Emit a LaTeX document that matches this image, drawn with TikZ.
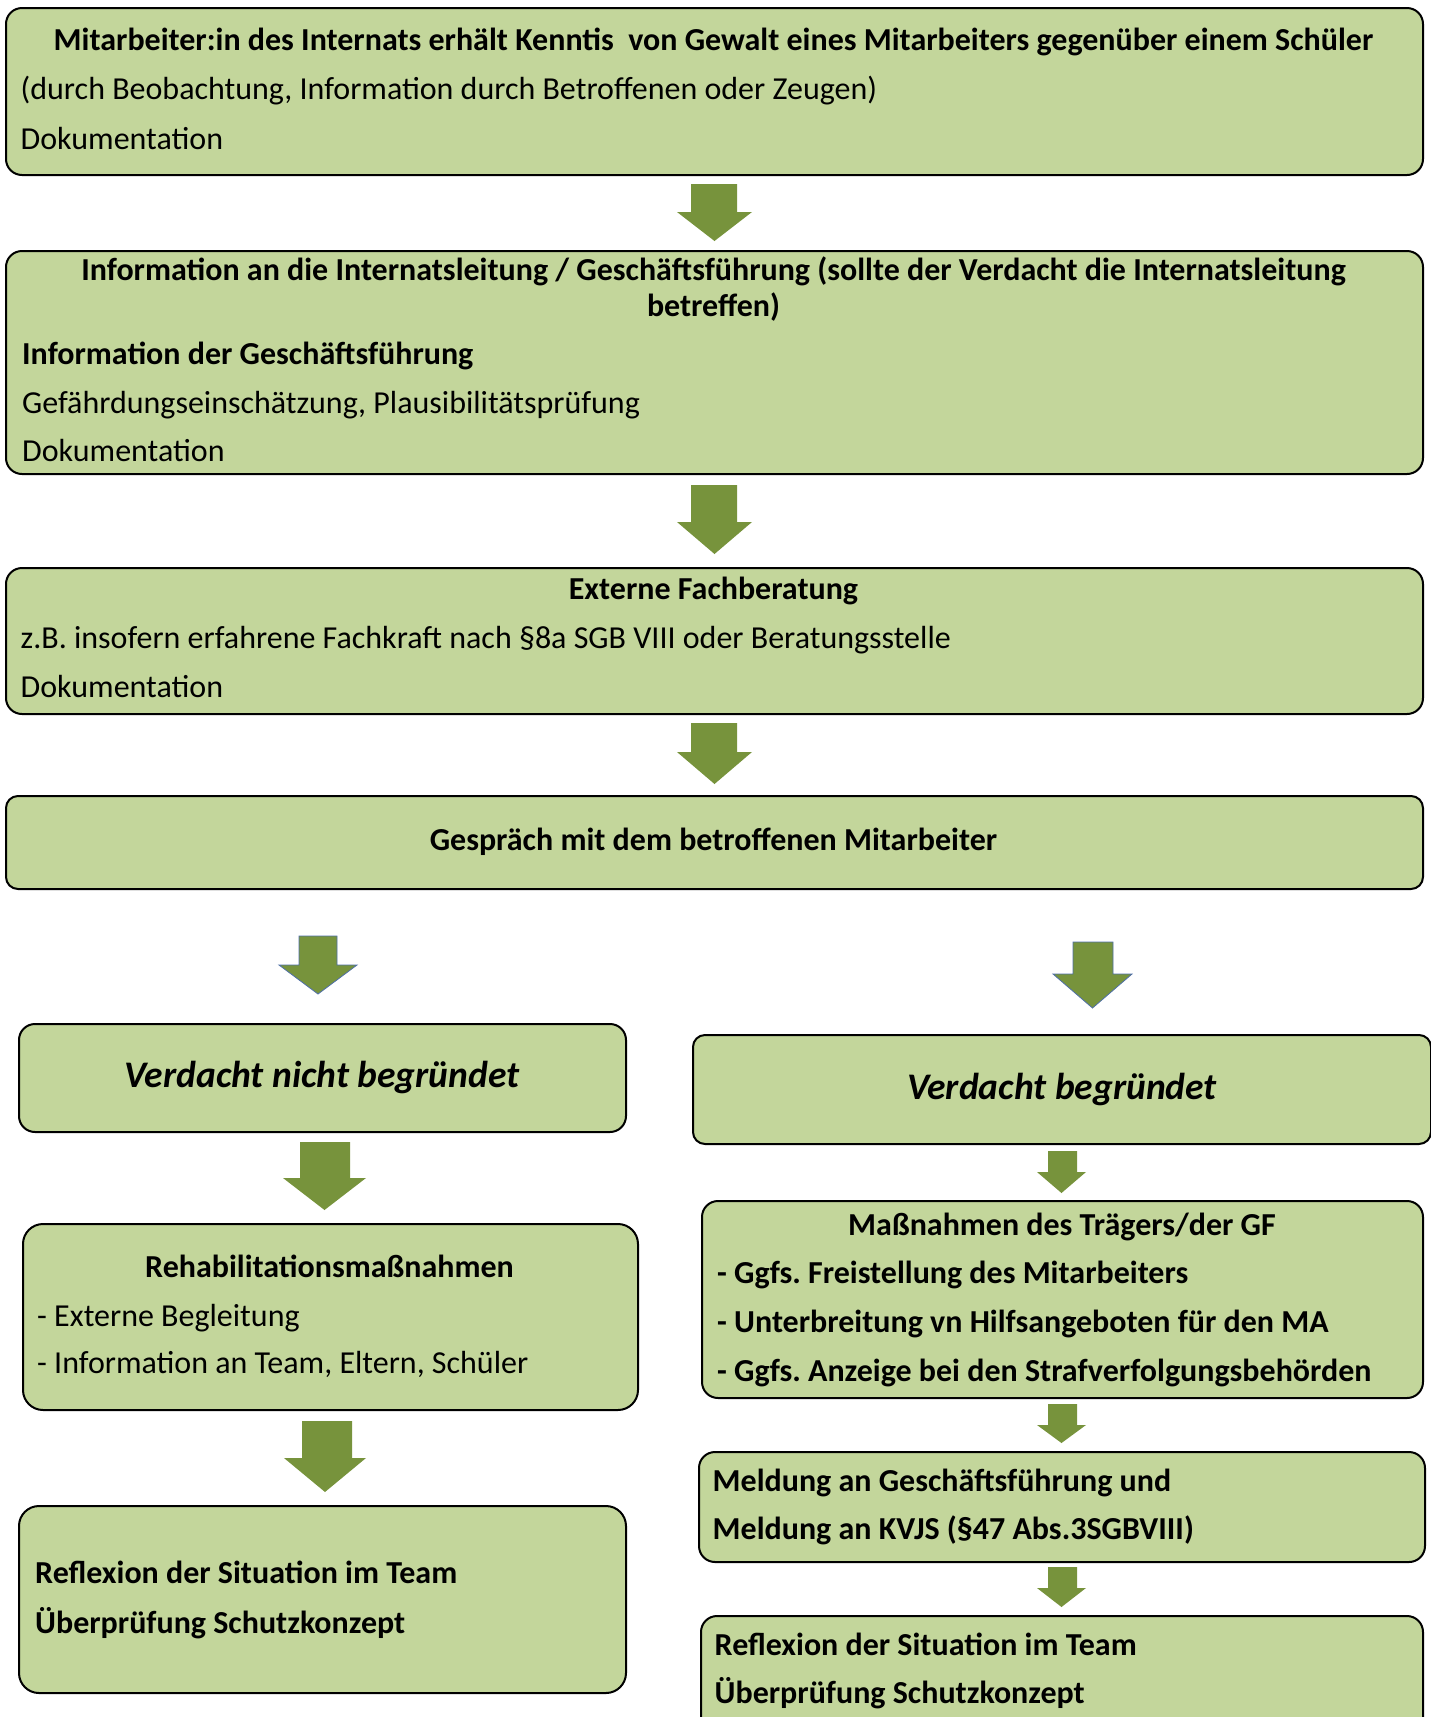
\documentclass[tikz,border=0pt]{standalone}
\usepackage{fontspec}
\setmainfont{Carlito}
\frenchspacing
\definecolor{boxfill}{HTML}{C3D69B}
\definecolor{arrowfill}{HTML}{77933C}
\definecolor{arrowedge}{HTML}{4F6FA8}
\tikzset{
  flowbox/.style={draw=black, line width=2pt, fill=boxfill, rounded corners=16pt, inner sep=0pt, anchor=north west},
  blockarrowplain/.style={fill=arrowfill},
  blockarrowedged/.style={fill=arrowfill, draw=arrowedge, line width=0.8pt},
  titletxt/.style={font=\fontsize{32}{38}\selectfont\bfseries\frenchspacing, inner sep=0pt, anchor=base},
  boldleft/.style={font=\fontsize{32}{38}\selectfont\bfseries\frenchspacing, inner sep=0pt, anchor=base west},
  bodytxt/.style={font=\fontsize{32}{38}\selectfont\frenchspacing, inner sep=0pt, anchor=base west},
  bigtxt/.style={font=\fontsize{37.5}{44}\selectfont\bfseries\itshape, inner sep=0pt, anchor=base},
}
% #1 name, #2 x1, #3 y1, #4 x2, #5 y2, #6 extra style
\newcommand\flowboxat[6]{%
  \pgfmathsetmacro\fbw{#4-#2}\pgfmathsetmacro\fbh{#5-#3}%
  \node[flowbox, minimum width=\fbw pt, minimum height=\fbh pt, #6] (#1) at (#2,#3) {};}
% #1 style, #2 shaftL, #3 shaftR, #4 headL, #5 headR, #6 top, #7 headstart, #8 tip
\newcommand\blockarrowat[8]{%
  \path[#1] (#2,#6) -- (#3,#6) -- (#3,#7) -- (#5,#7) -- ({(#4+#5)/2},#8) -- (#4,#7) -- (#2,#7) -- cycle;}
\begin{document}
\begin{tikzpicture}[x=1pt, y=-1pt]
\useasboundingbox (0,0) rectangle (1431,1717);
\clip (0,0) rectangle (1431,1717);

% boxes
\flowboxat{b1}{5}{7}{1422}{174}{}
\flowboxat{b2}{5}{250}{1422}{473}{}
\flowboxat{b3}{5}{567}{1422}{713}{}
\flowboxat{b4}{5}{795}{1422}{888}{rounded corners=12pt}
\flowboxat{l1}{18}{1023}{625}{1131}{}
\flowboxat{r1}{692}{1034}{1430}{1143}{rounded corners=12pt}
\flowboxat{l2}{22}{1223}{637}{1409}{rounded corners=20pt}
\flowboxat{l3}{18}{1505}{625}{1692}{rounded corners=20pt}
\flowboxat{r2}{701}{1200}{1422}{1397}{}
\flowboxat{r3}{698}{1451}{1424}{1561}{}
\flowboxat{r4}{700}{1615}{1422}{1760}{}

% block arrows
\blockarrowat{blockarrowplain}{691}{737}{677}{752}{184}{212}{241}
\blockarrowat{blockarrowplain}{691}{737}{677}{752}{485}{522}{554}
\blockarrowat{blockarrowplain}{691}{737}{677}{752}{723}{752}{784}
\blockarrowat{blockarrowedged}{299}{337}{279}{357}{936}{965}{994}
\blockarrowat{blockarrowedged}{1073}{1113}{1053}{1132}{942}{974}{1008}
\blockarrowat{blockarrowplain}{300}{350}{283}{366}{1142}{1178}{1210}
\blockarrowat{blockarrowplain}{302}{352}{284}{366}{1421}{1458}{1492}
\blockarrowat{blockarrowplain}{1048}{1077}{1037}{1086}{1151}{1172}{1193}
\blockarrowat{blockarrowplain}{1048}{1077}{1037}{1086}{1404}{1425}{1443}
\blockarrowat{blockarrowplain}{1048}{1077}{1037}{1086}{1567}{1588}{1607}

% texts
\node[titletxt] (t1a) at (713.5,50) {Mitarbeiter:in des Internats erhält Kenntis \ von Gewalt eines Mitarbeiters gegenüber einem Schüler};
\node[bodytxt] (t1b) at (20.5,99) {(durch Beobachtung, Information durch Betroffenen oder Zeugen)};
\node[bodytxt] (t1c) at (20.5,149) {Dokumentation};

\node[titletxt] (t2a) at (713.5,280) {Information an die Internatsleitung / Geschäftsführung (sollte der Verdacht die Internatsleitung};
\node[titletxt] (t2b) at (713.5,316) {betreffen)};
\node[boldleft] (t2c) at (22,364) {Information der Geschäftsführung};
\node[bodytxt] (t2d) at (22,413) {Gefährdungseinschätzung, Plausibilitätsprüfung};
\node[bodytxt] (t2e) at (22,461) {Dokumentation};

\node[titletxt] (t3a) at (713.5,599) {Externe Fachberatung};
\node[bodytxt] (t3b) at (20.5,648) {z.B. insofern erfahrene Fachkraft nach §8a SGB VIII oder Beratungsstelle};
\node[bodytxt] (t3c) at (20.5,697) {Dokumentation};

\node[titletxt] (t4) at (713.5,850) {Gespräch mit dem betroffenen Mitarbeiter};

\node[bigtxt] (tl1) at (322,1087) {Verdacht nicht begründet};
\node[bigtxt] (tr1) at (1062,1099) {Verdacht begründet};

\node[titletxt] (tl2a) at (329.5,1277) {Rehabilitationsmaßnahmen};
\node[bodytxt] (tl2b) at (37,1326) {- Externe Begleitung};
\node[bodytxt] (tl2c) at (37,1373) {- Information an Team, Eltern, Schüler};

\node[boldleft] (tl3a) at (35,1583) {Reflexion der Situation im Team};
\node[boldleft] (tl3b) at (35,1633) {Überprüfung Schutzkonzept};

\node[titletxt] (tr2a) at (1062,1235) {Maßnahmen des Trägers/der GF};
\node[boldleft] (tr2b) at (717,1283) {- Ggfs. Freistellung des Mitarbeiters};
\node[boldleft] (tr2c) at (717,1332) {- Unterbreitung vn Hilfsangeboten für den MA};
\node[boldleft] (tr2d) at (717,1381) {- Ggfs. Anzeige bei den Strafverfolgungsbehörden};

\node[boldleft] (tr3a) at (712.5,1491) {Meldung an Geschäftsführung und};
\node[boldleft] (tr3b) at (712.5,1539) {Meldung an KVJS (§47 Abs.3SGBVIII)};

\node[boldleft] (tr4a) at (714.5,1655) {Reflexion der Situation im Team};
\node[boldleft] (tr4b) at (714.5,1703) {Überprüfung Schutzkonzept};
\end{tikzpicture}
\end{document}
